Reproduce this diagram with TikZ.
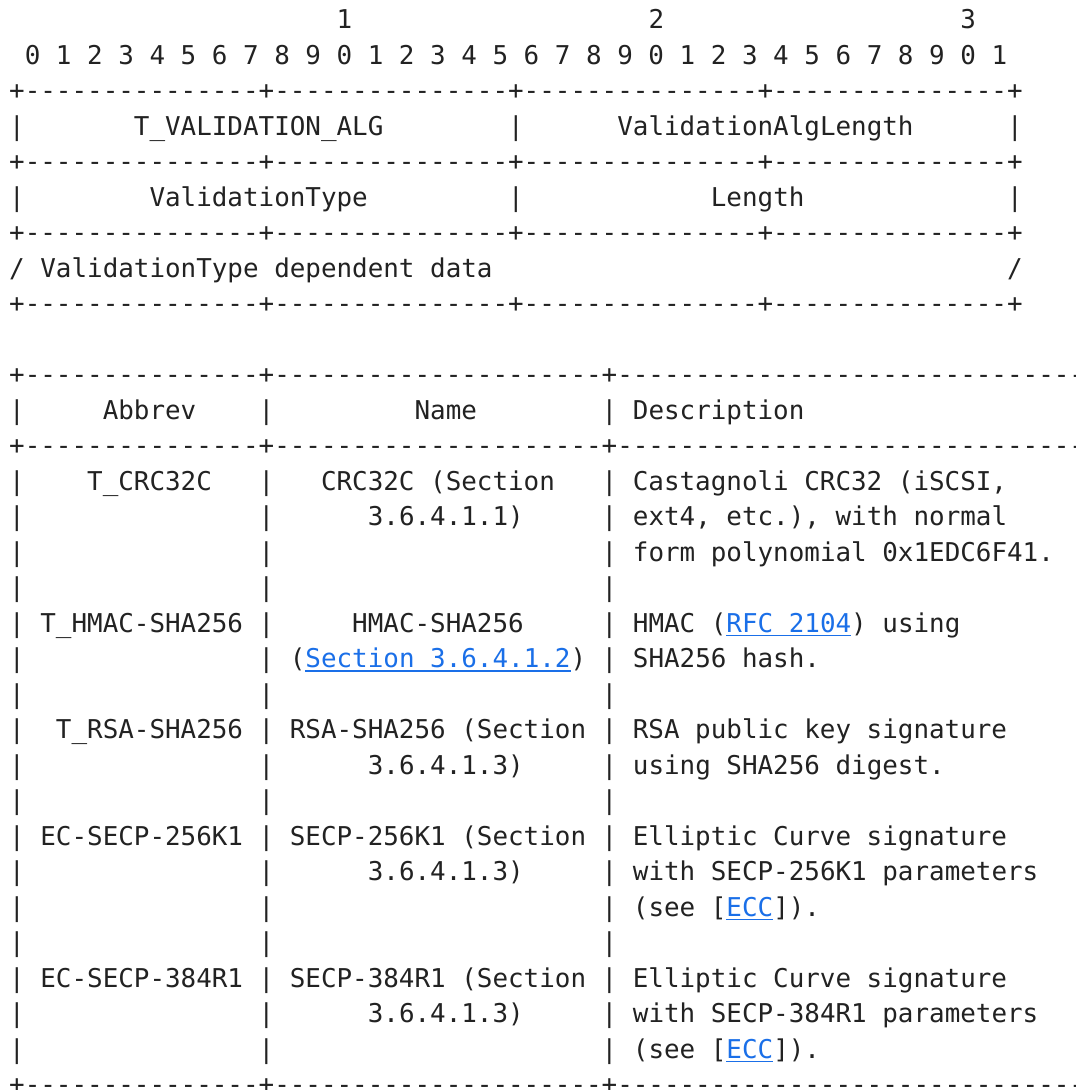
\documentclass[tikz,border=0pt]{standalone}
\usepackage{fontspec}
\setmonofont{DejaVu Sans Mono}
\definecolor{ink}{HTML}{222222}
\definecolor{linkc}{HTML}{1A6FE8}
\newsavebox\cellbox
\newcommand\sk[1]{\sbox\cellbox{0}\hspace*{#1\wd\cellbox}}
\newcommand\lnk[1]{{\color{linkc}\sbox\cellbox{#1}\rlap{\rule[-4.3pt]{\wd\cellbox}{1.6pt}}\usebox\cellbox}}
\tikzset{ascii/.style={anchor=base west, inner sep=0pt, outer sep=0pt, text=ink,
  font=\ttfamily\fontsize{25.9}{35.5}\selectfont\frenchspacing}}
\begin{document}
\begin{tikzpicture}[x=1pt,y=-1pt]
\useasboundingbox (0,0) rectangle (1076,1090);
\fill[white] (0,0) rectangle (1076,1090);
\clip (0,0) rectangle (1076,1090);
\def\X{9.2}
\node[ascii] (r0) at (\X,{28.5+35.5*0}) {\sk{21}1\sk{19}2\sk{19}3};
\node[ascii] (r1) at (\X,{28.5+35.5*1}) {\sk{1}0 1 2 3 4 5 6 7 8 9 0 1 2 3 4 5 6 7 8 9 0 1 2 3 4 5 6 7 8 9 0 1};
\node[ascii] (r2) at (\X,{28.5+35.5*2}) {+---------------+---------------+---------------+---------------+};
\node[ascii] (r3) at (\X,{28.5+35.5*3}) {|\sk{7}T\_VALIDATION\_ALG\sk{8}|\sk{6}ValidationAlgLength\sk{6}|};
\node[ascii] (r4) at (\X,{28.5+35.5*4}) {+---------------+---------------+---------------+---------------+};
\node[ascii] (r5) at (\X,{28.5+35.5*5}) {|\sk{8}ValidationType\sk{9}|\sk{12}Length\sk{13}|};
\node[ascii] (r6) at (\X,{28.5+35.5*6}) {+---------------+---------------+---------------+---------------+};
\node[ascii] (r7) at (\X,{28.5+35.5*7}) {/ ValidationType dependent data\sk{33}/};
\node[ascii] (r8) at (\X,{28.5+35.5*8}) {+---------------+---------------+---------------+---------------+};
\node[ascii] (r10) at (\X,{28.5+35.5*10}) {+---------------+---------------------+--------------------------------};
\node[ascii] (r11) at (\X,{28.5+35.5*11}) {|\sk{5}Abbrev\sk{4}|\sk{9}Name\sk{8}| Description};
\node[ascii] (r12) at (\X,{28.5+35.5*12}) {+---------------+---------------------+--------------------------------};
\node[ascii] (r13) at (\X,{28.5+35.5*13}) {|\sk{4}T\_CRC32C\sk{3}|\sk{3}CRC32C (Section\sk{3}| Castagnoli CRC32 (iSCSI,};
\node[ascii] (r14) at (\X,{28.5+35.5*14}) {|\sk{15}|\sk{6}3.6.4.1.1)\sk{5}| ext4, etc.), with normal};
\node[ascii] (r15) at (\X,{28.5+35.5*15}) {|\sk{15}|\sk{21}| form polynomial 0x1EDC6F41.};
\node[ascii] (r16) at (\X,{28.5+35.5*16}) {|\sk{15}|\sk{21}|};
\node[ascii] (r17) at (\X,{28.5+35.5*17}) {| T\_HMAC-SHA256 |\sk{5}HMAC-SHA256\sk{5}| HMAC (\lnk{RFC 2104}) using};
\node[ascii] (r18) at (\X,{28.5+35.5*18}) {|\sk{15}| (\lnk{Section 3.6.4.1.2}) | SHA256 hash.};
\node[ascii] (r19) at (\X,{28.5+35.5*19}) {|\sk{15}|\sk{21}|};
\node[ascii] (r20) at (\X,{28.5+35.5*20}) {|\sk{2}T\_RSA-SHA256 | RSA-SHA256 (Section | RSA public key signature};
\node[ascii] (r21) at (\X,{28.5+35.5*21}) {|\sk{15}|\sk{6}3.6.4.1.3)\sk{5}| using SHA256 digest.};
\node[ascii] (r22) at (\X,{28.5+35.5*22}) {|\sk{15}|\sk{21}|};
\node[ascii] (r23) at (\X,{28.5+35.5*23}) {| EC-SECP-256K1 | SECP-256K1 (Section | Elliptic Curve signature};
\node[ascii] (r24) at (\X,{28.5+35.5*24}) {|\sk{15}|\sk{6}3.6.4.1.3)\sk{5}| with SECP-256K1 parameters};
\node[ascii] (r25) at (\X,{28.5+35.5*25}) {|\sk{15}|\sk{21}| (see [\lnk{ECC}]).};
\node[ascii] (r26) at (\X,{28.5+35.5*26}) {|\sk{15}|\sk{21}|};
\node[ascii] (r27) at (\X,{28.5+35.5*27}) {| EC-SECP-384R1 | SECP-384R1 (Section | Elliptic Curve signature};
\node[ascii] (r28) at (\X,{28.5+35.5*28}) {|\sk{15}|\sk{6}3.6.4.1.3)\sk{5}| with SECP-384R1 parameters};
\node[ascii] (r29) at (\X,{28.5+35.5*29}) {|\sk{15}|\sk{21}| (see [\lnk{ECC}]).};
\node[ascii] (r30) at (\X,{28.5+35.5*30}) {+---------------+---------------------+--------------------------------};
\end{tikzpicture}
\end{document}
